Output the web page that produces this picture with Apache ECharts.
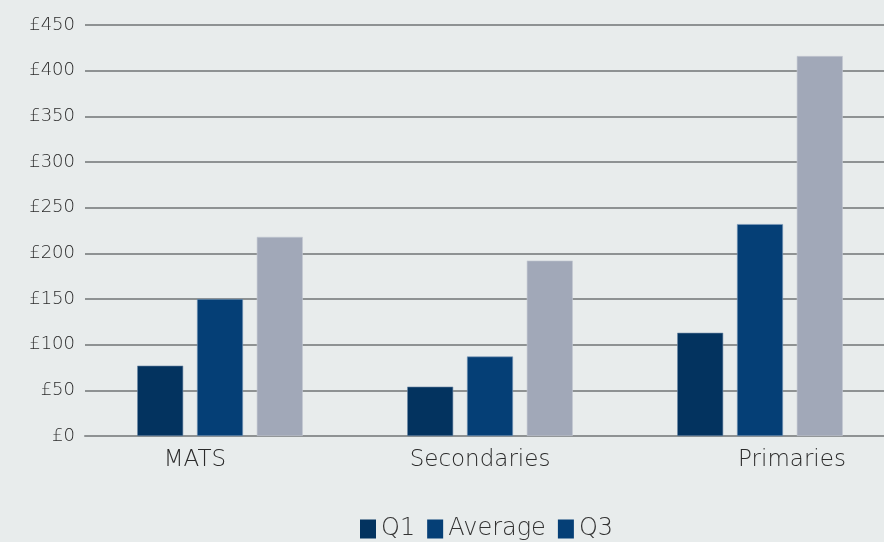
<!DOCTYPE html>
<html>
<head>
<meta charset="utf-8">
<script src="https://cdn.jsdelivr.net/npm/echarts@6/dist/echarts.min.js"></script>
<style>
  html, body { margin: 0; padding: 0; background: #e8ecec; }
  #chart { width: 884px; height: 542px; }
</style>
</head>
<body>
<div id="chart"></div>
<script>
// Cost per pupil by school type
const categories = ['MATS', 'Secondaries', 'Primaries'];
const q1Values = [77, 54, 113];
const averageValues = [150, 87, 232];
const q3Values = [218, 192, 416];
const yTicks = [0, 50, 100, 150, 200, 250, 300, 350, 400, 450];

const colors = { q1: '#03335f', avg: '#053f76', q3: '#a1a8b8' };
const font = '"DejaVu Sans", sans-serif';
const weight = 300;

// per-category label nudges (left / right padding)
const labelPad = { MATS: [0, 50, 0, 0], Secondaries: [0, 20, 0, 0], Primaries: [0, 0, 0, 64] };

const chart = echarts.init(document.getElementById('chart'));
chart.setOption({
  backgroundColor: '#e8ecec',
  animation: false,
  grid: { left: 85, width: 810, top: 25, bottom: 106, containLabel: false, outerBoundsMode: 'none' },
  legend: {
    left: 355, top: 512,
    itemWidth: 16, itemHeight: 19, itemGap: 12,
    icon: 'rect',
    itemStyle: { borderWidth: 0 },
    textStyle: { fontFamily: font, fontWeight: weight, fontSize: 24, color: '#333' },
    data: [
      { name: 'Q1', itemStyle: { color: colors.q1, borderWidth: 0 } },
      { name: 'Average', itemStyle: { color: colors.avg, borderWidth: 0 } },
      { name: 'Q3', itemStyle: { color: colors.avg, borderWidth: 0 } }
    ]
  },
  xAxis: {
    type: 'category',
    data: categories,
    axisTick: { show: false },
    axisLine: { lineStyle: { color: '#8e9293', width: 2 } },
    axisLabel: {
      margin: 13,
      formatter: v => '{' + v + '|' + v + '}',
      rich: Object.fromEntries(categories.map(c => [c, {
        fontFamily: font, fontWeight: weight, fontSize: 23, color: '#2b2b2b', padding: labelPad[c]
      }]))
    }
  },
  yAxis: {
    type: 'value',
    min: yTicks[0], max: yTicks[yTicks.length - 1], interval: 50,
    axisLine: { show: false },
    axisTick: { show: false },
    splitLine: { lineStyle: { color: '#8e9293', width: 2 } },
    axisLabel: {
      margin: 10,
      fontFamily: font, fontWeight: weight, fontSize: 18, color: '#2b2b2b',
      formatter: v => '£' + v
    }
  },
  series: [
    { name: 'Q1', type: 'bar', data: q1Values, barWidth: 46, barGap: '30%',
      itemStyle: { color: colors.q1, borderColor: '#6e8aa6', borderWidth: 0.6 } },
    { name: 'Average', type: 'bar', data: averageValues, barWidth: 46, barGap: '30%',
      itemStyle: { color: colors.avg, borderColor: '#7c9bbb', borderWidth: 0.6 } },
    { name: 'Q3', type: 'bar', data: q3Values, barWidth: 46, barGap: '30%',
      itemStyle: { color: colors.q3, borderColor: '#c3c8d2', borderWidth: 0.6 } }
  ]
});
</script>
</body>
</html>
